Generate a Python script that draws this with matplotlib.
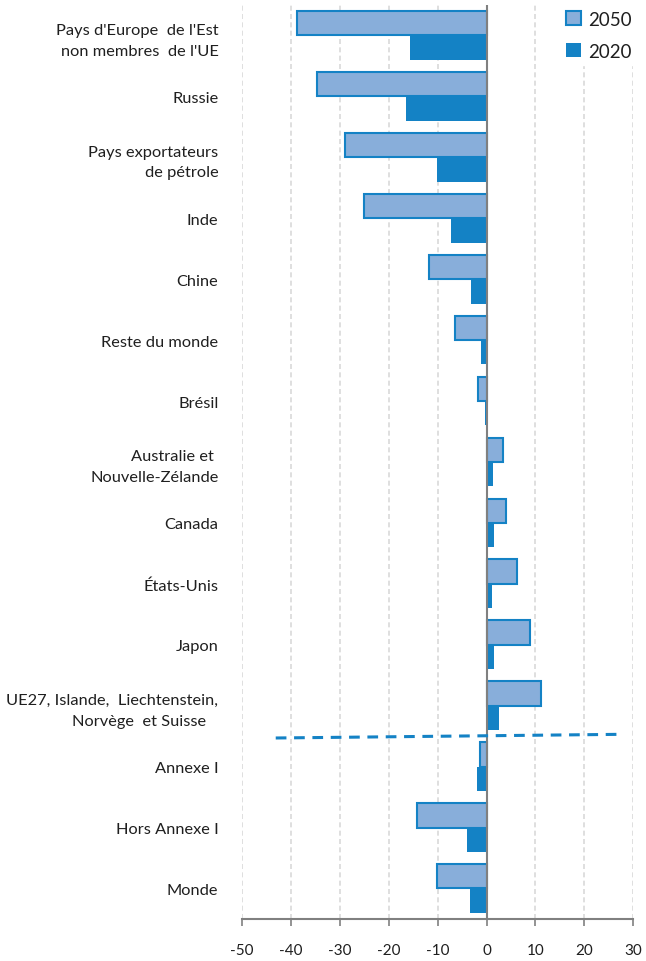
import matplotlib.pyplot as plt
import numpy as np

categories = [
    "Pays d'Europe  de l'Est\nnon membres  de l'UE",
    "Russie",
    "Pays exportateurs\nde pétrole",
    "Inde",
    "Chine",
    "Reste du monde",
    "Brésil",
    "Australie et \nNouvelle-Zélande",
    "Canada",
    "États-Unis",
    "Japon",
    "UE27, Islande,  Liechtenstein,\nNorvège  et Suisse   ",
    "Annexe I",
    "Hors Annexe I",
    "Monde",
]
v2050 = [-38.8, -34.6, -28.9, -25.0, -11.7, -6.5, -1.8, 3.4, 3.9, 6.2, 8.8, 11.2, -1.4, -14.3, -10.2]
v2020 = [-15.7, -16.5, -10.2, -7.3, -3.2, -1.2, -0.3, 1.3, 1.5, 1.2, 1.5, 2.6, -2.0, -4.0, -3.3]
xticks = [-50, -40, -30, -20, -10, 0, 10, 20, 30]

plt.rcParams['font.family'] = ['Lato', 'DejaVu Sans']

light = '#88AEDA'
dark = '#1482C5'
txt = '#1F1F1F'

fig = plt.figure(figsize=(6.46, 9.62), dpi=100)
ax = fig.add_axes([0.3746, 0.0437, 0.6057, 0.9501])

y = np.arange(len(categories))
h = 0.4
ax.barh(y - h / 2, v2050, height=h, color=light, edgecolor=dark, linewidth=1.5, label='2050', zorder=3)
ax.barh(y + h / 2, v2020, height=h, color=dark, edgecolor=dark, linewidth=0, label='2020', zorder=3)

ax.set_ylim(len(categories) - 0.5, -0.5)
ax.set_xlim(-50, 30)
ax.set_xticks(xticks)
ax.set_xticklabels([str(t) for t in xticks])
ax.set_yticks(y)
ax.set_yticklabels(categories, linespacing=1.6)

ax.grid(axis='x', color='#D9D9D9', linestyle=(0, (3, 2)), linewidth=1.2, zorder=0)
ax.axvline(0, color='#808080', linewidth=1.5, zorder=4)

# separator between groups of countries and aggregates
ax.plot([-43.1, 27.3], [11.53, 11.47], color=dark, linestyle=(0, (3.5, 2.5)), linewidth=2.2, zorder=5)

for side in ['top', 'right', 'left']:
    ax.spines[side].set_visible(False)
ax.spines['bottom'].set_color('#808080')
ax.spines['bottom'].set_linewidth(1.5)
ax.tick_params(axis='x', length=5, width=1.2, color='#808080', pad=12, labelsize=11, labelcolor=txt)
ax.tick_params(axis='y', length=0, pad=17, labelsize=11.8, labelcolor=txt)

leg = ax.legend(loc='upper right', bbox_to_anchor=(1.035, 1.01), frameon=True, fontsize=13.5,
                handlelength=0.8, handleheight=0.8, handletextpad=0.4, labelspacing=0.8,
                borderpad=0.3, fancybox=False)
leg.get_frame().set_edgecolor('white')
leg.get_frame().set_facecolor('white')
leg.get_frame().set_alpha(1)
leg.set_zorder(6)
for t in leg.get_texts():
    t.set_color(txt)

fig.savefig('out.png', dpi=100)
